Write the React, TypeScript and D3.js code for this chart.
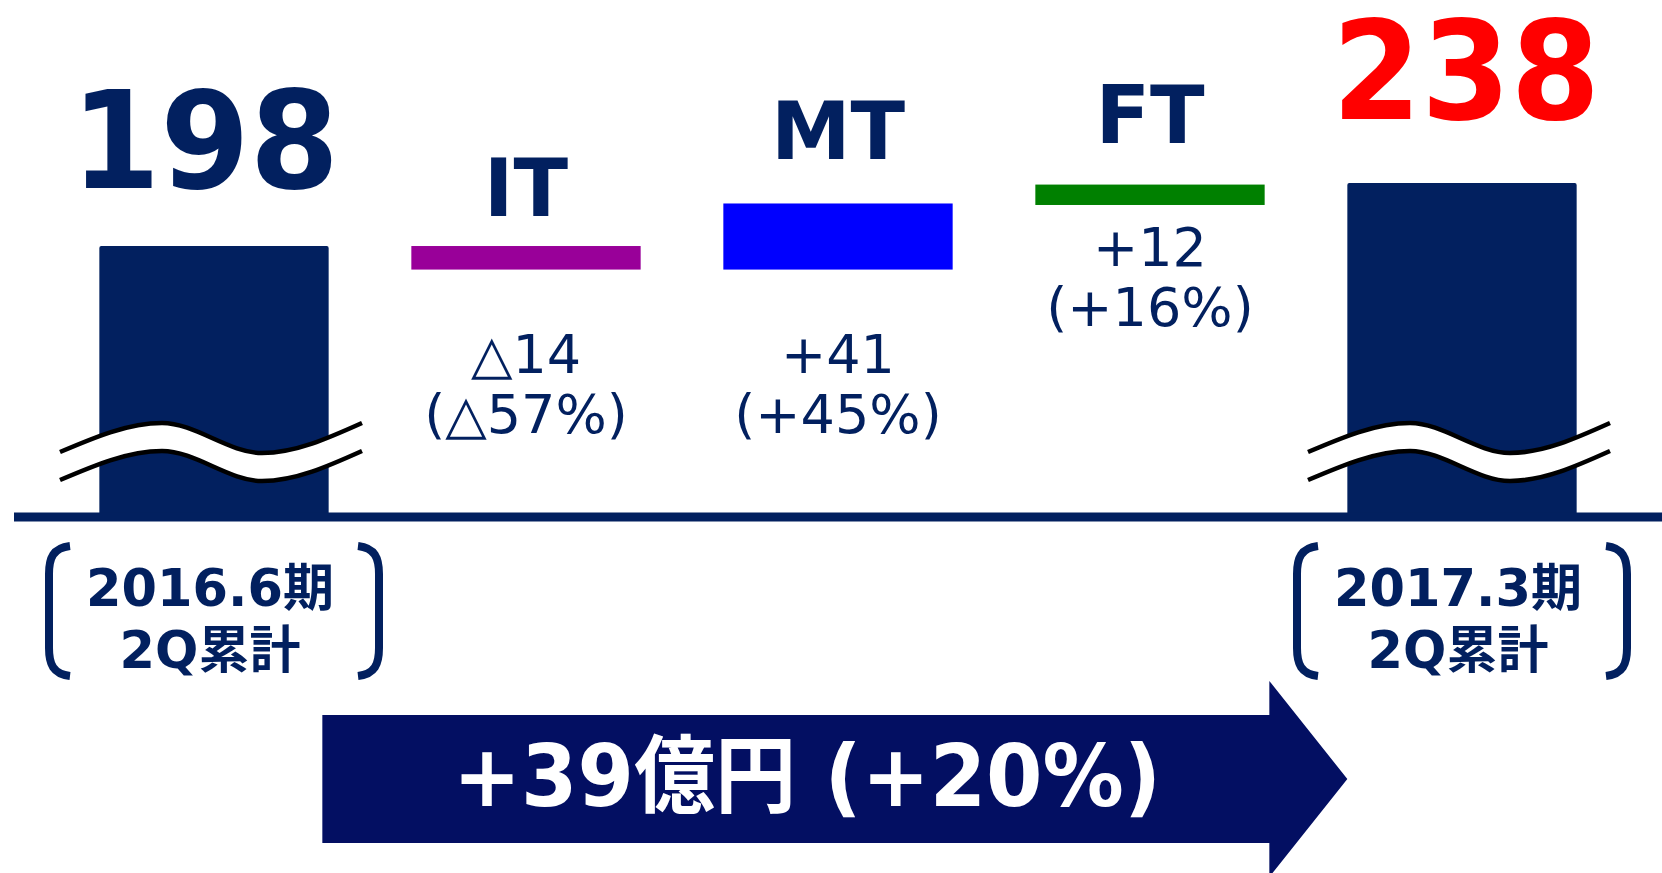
import React from 'react';
import * as d3 from 'd3';

// ---- data ----
const categories = ['start', 'IT', 'MT', 'FT', 'end'];
const startTotal = 198;
const endTotal = 238;
const segments = ['IT', 'MT', 'FT'];
const segmentDeltas = [-14, 41, 12];
const segmentPct = [-57, 45, 16];
const segmentColors = ['#990099', '#0000FF', '#008000'];
const periodLine1 = ['2016.6期', '2017.3期'];
const periodLine2 = ['2Q累計', '2Q累計'];
const totalChange = 39;
const totalChangePct = 20;
const totalUnit = '億円';

const W = 1662;
const H = 873;
const NAVY = '#02205F';
const ARROW = '#030F62';
const BOLD_FONT = "'DejaVu Sans', 'Noto Sans CJK JP', sans-serif";

const fmt = (v: number) => (v < 0 ? '△' + Math.abs(v) : '+' + v);

export default function App() {
  const x = d3
    .scaleBand<string>()
    .domain(categories)
    .range([58, 1618])
    .paddingInner(0.265)
    .paddingOuter(0.1325);
  const y = d3.scaleLinear().domain([26, 238]).range([517, 183]);
  const bw = x.bandwidth();
  const axisY = y(26);

  // waterfall
  let run = startTotal;
  const wf = segments.map((s, i) => {
    const from = run;
    const to = run + segmentDeltas[i];
    run = to;
    return { s, from, to, lo: Math.min(from, to), hi: Math.max(from, to), i };
  });

  const totals = [
    { key: 'start', v: startTotal, color: NAVY, labelGap: 58, dx: -9, size: 136, len: 268 },
    { key: 'end', v: endTotal, color: '#FF0000', labelGap: 64, dx: 4, size: 138, len: 268 },
  ];

  // break curve
  const breakRel: [number, number][] = [
    [-154, 452],
    [-52, 423],
    [48, 453],
    [148, 423],
  ];
  const gap = 28;
  const line = d3
    .line<[number, number]>()
    .x((d) => d[0])
    .y((d) => d[1])
    .curve(d3.curveMonotoneX);
  const area = d3
    .area<[number, number]>()
    .x((d) => d[0])
    .y0((d) => d[1] + gap)
    .y1((d) => d[1])
    .curve(d3.curveMonotoneX);

  const segLabelGap = [30, 44, 42];

  const bracket = (cx: number, side: number) => {
    const xv = cx + side * 165;
    const yt = 546;
    const yb = 676;
    const e = xv - side * 21;
    return `M${e},${yt} C${xv - side * 4},${yt + 2} ${xv},${yt + 12} ${xv},${yt + 28} L${xv},${yb - 28} C${xv},${yb - 12} ${xv - side * 4},${yb - 2} ${e},${yb}`;
  };

  // arrow
  const ax0 = (x('IT') as number) - 89;
  const ax1 = (x('end') as number) - 78;
  const tip = x('end') as number;
  const acy = 779;
  const arrowPath = `M${ax0},${acy - 64} L${ax1},${acy - 64} L${ax1},${acy - 98} L${tip},${acy} L${ax1},${acy + 98} L${ax1},${acy + 64} L${ax0},${acy + 64} Z`;

  return (
    <svg
      width={W}
      height={H}
      style={{ position: 'fixed', left: 0, top: 0, display: 'block', background: '#fff' }}
    >
      {/* total bars */}
      {totals.map((t) => {
        const cx = (x(t.key) as number) + bw / 2;
        return (
          <g key={t.key}>
            <rect x={x(t.key)} y={y(t.v)} width={bw} height={axisY - y(t.v)} fill={NAVY} rx={2} />
            <text
              x={cx + t.dx}
              y={y(t.v) - t.labelGap}
              textAnchor="middle"
              fill={t.color}
              fontFamily={BOLD_FONT}
              fontWeight="bold"
              fontSize={t.size}
              textLength={t.len}
              lengthAdjust="spacingAndGlyphs"
            >
              {t.v}
            </text>
          </g>
        );
      })}

      {/* axis */}
      <line x1={14} x2={W} y1={axisY} y2={axisY} stroke={NAVY} strokeWidth={9} />

      {/* breaks */}
      {totals.map((t) => {
        const cx = (x(t.key) as number) + bw / 2;
        const pts = breakRel.map((p) => [cx + p[0], p[1]] as [number, number]);
        const pts2 = pts.map((p) => [p[0], p[1] + gap] as [number, number]);
        return (
          <g key={'b' + t.key}>
            <path d={area(pts) as string} fill="#fff" />
            <path d={line(pts) as string} fill="none" stroke="#000" strokeWidth={4.5} />
            <path d={line(pts2) as string} fill="none" stroke="#000" strokeWidth={4.5} />
          </g>
        );
      })}

      {/* segments */}
      {wf.map((d) => {
        const cx = (x(d.s) as number) + bw / 2;
        const top = y(d.hi);
        const bottom = y(d.lo) + 1.5;
        const labY = d.i < 2 ? 373 : bottom + 61;
        return (
          <g key={d.s}>
            <rect x={x(d.s)} y={top} width={bw} height={bottom - top} fill={segmentColors[d.i]} />
            <text
              x={cx}
              y={top - segLabelGap[d.i]}
              textAnchor="middle"
              fill={NAVY}
              fontFamily={BOLD_FONT}
              fontWeight="bold"
              fontSize={80}
            >
              {d.s}
            </text>
            <text x={cx} y={labY} textAnchor="middle" fill={NAVY} fontFamily={BOLD_FONT} fontSize={54}>
              {fmt(segmentDeltas[d.i])}
            </text>
            <text x={cx} y={labY + 60} textAnchor="middle" fill={NAVY} fontFamily={BOLD_FONT} fontSize={54}>
              {'(' + fmt(segmentPct[d.i]) + '%)'}
            </text>
          </g>
        );
      })}

      {/* period labels */}
      {['start', 'end'].map((k, i) => {
        const cx = (x(k) as number) + bw / 2;
        return (
          <g key={'p' + k}>
            <path d={bracket(cx, -1)} fill="none" stroke={NAVY} strokeWidth={8} />
            <path d={bracket(cx, 1)} fill="none" stroke={NAVY} strokeWidth={8} />
            <text x={cx - 4} y={606} textAnchor="middle" fill={NAVY} fontFamily={BOLD_FONT} fontWeight="bold" fontSize={51}>
              {periodLine1[i]}
            </text>
            <text x={cx - 4} y={668} textAnchor="middle" fill={NAVY} fontFamily={BOLD_FONT} fontWeight="bold" fontSize={51}>
              {periodLine2[i]}
            </text>
          </g>
        );
      })}

      {/* arrow */}
      <path d={arrowPath} fill={ARROW} />
      <text
        x={807}
        y={806}
        textAnchor="middle"
        fill="#fff"
        fontFamily={BOLD_FONT}
        fontWeight="bold"
        fontSize={85}
        textLength={708}
        lengthAdjust="spacingAndGlyphs"
      >
        {'+' + totalChange + totalUnit + ' (+' + totalChangePct + '%)'}
      </text>
    </svg>
  );
}
